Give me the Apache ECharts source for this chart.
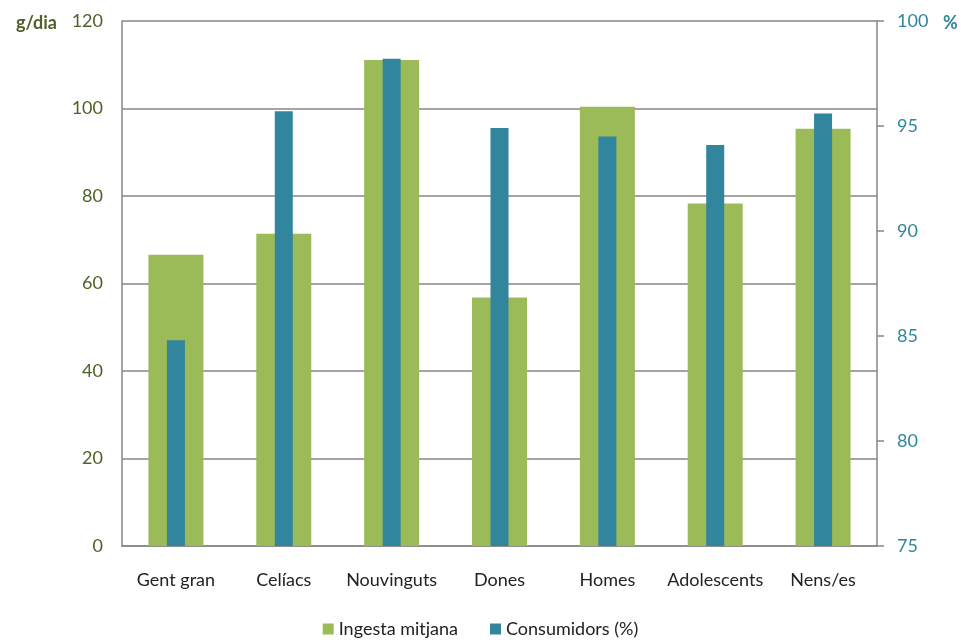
<!DOCTYPE html>
<html>
<head>
<meta charset="utf-8">
<script src="https://cdn.jsdelivr.net/npm/echarts@6/dist/echarts.min.js"></script>
<style>
  html, body { margin: 0; padding: 0; background: #fff; }
  #chart { width: 961px; height: 644px; }
</style>
</head>
<body>
<div id="chart"></div>
<script>
// categories and values
const categories = ['Gent gran', 'Celíacs', 'Nouvinguts', 'Dones', 'Homes', 'Adolescents', 'Nens/es'];
const ingestaMitjana = [66.6, 71.4, 111.1, 56.8, 100.4, 78.3, 95.4];   // g/dia, left axis
const consumidors = [84.8, 95.7, 98.2, 94.9, 94.5, 94.1, 95.6];       // %, right axis

const green = '#9BBB59';
const blue = '#31859C';
const font = 'Lato, "Open Sans", sans-serif';

const chart = echarts.init(document.getElementById('chart'));

chart.setOption({
  animation: false,
  textStyle: { fontFamily: font },
  grid: { left: 122, right: 84, top: 21, bottom: 98 },
  legend: {
    bottom: 1,
    left: 'center',
    itemWidth: 11,
    itemHeight: 11,
    itemGap: 32,
    textStyle: { fontSize: 18, color: '#222', fontFamily: font },
    data: [
      { name: 'Ingesta mitjana', icon: 'rect' },
      { name: 'Consumidors (%)', icon: 'rect' }
    ]
  },
  xAxis: [
    {
      type: 'category',
      data: categories,
      axisLine: { lineStyle: { color: '#868686', width: 1.5 } },
      axisTick: { show: false },
      axisLabel: { color: '#222', fontSize: 18, margin: 25, interval: 0 }
    },
    {
      type: 'category',
      data: categories,
      position: 'bottom',
      show: false
    }
  ],
  yAxis: [
    {
      type: 'value',
      min: 0, max: 120, interval: 20,
      name: 'g/dia',
      nameLocation: 'end',
      nameGap: 0,
      nameTextStyle: { color: '#4F6228', fontSize: 18, fontWeight: 'bold', align: 'right', padding: [0, 65, -11, 0] },
      axisLine: { show: true, lineStyle: { color: '#868686', width: 1.5 } },
      axisTick: { show: false },
      axisLabel: { color: '#4F6228', fontSize: 18, margin: 19 },
      splitLine: { lineStyle: { color: '#868686', width: 1.5 } }
    },
    {
      type: 'value',
      min: 75, max: 100, interval: 5,
      position: 'right',
      name: '%',
      nameLocation: 'end',
      nameGap: 0,
      nameTextStyle: { color: blue, fontSize: 18, fontWeight: 'bold', align: 'left', padding: [0, 0, -11, 66] },
      axisLine: { show: true, lineStyle: { color: '#868686', width: 1.5 } },
      axisTick: { show: true, length: 7, lineStyle: { color: '#868686', width: 1.5 } },
      axisLabel: { color: blue, fontSize: 18, margin: 20 },
      splitLine: { show: false }
    }
  ],
  series: [
    {
      name: 'Ingesta mitjana',
      type: 'bar',
      xAxisIndex: 0,
      yAxisIndex: 0,
      barWidth: 55,
      data: ingestaMitjana,
      itemStyle: { color: green }
    },
    {
      name: 'Consumidors (%)',
      type: 'bar',
      xAxisIndex: 1,
      yAxisIndex: 1,
      barWidth: 18,
      data: consumidors,
      itemStyle: { color: blue }
    }
  ]
});
</script>
</body>
</html>
